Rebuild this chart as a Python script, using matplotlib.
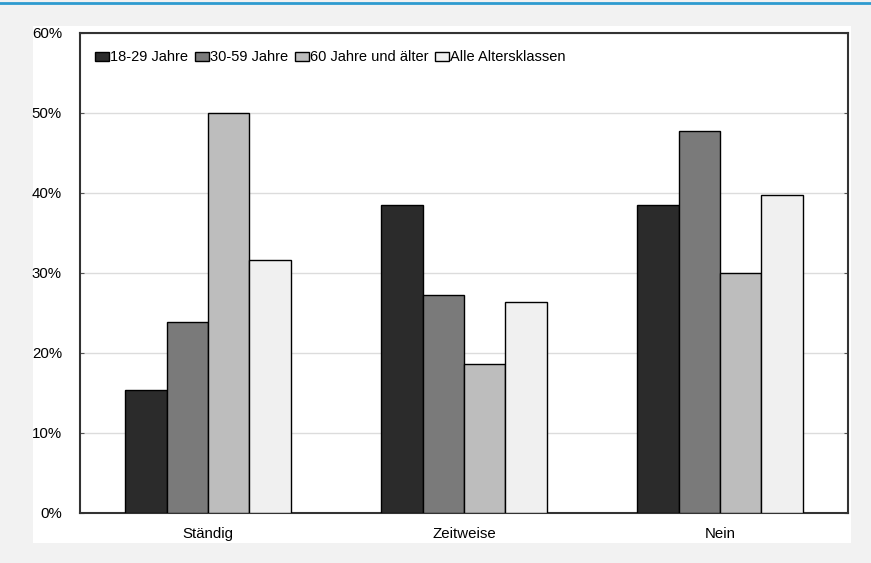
import numpy as np
import matplotlib.pyplot as plt
from matplotlib.patches import Rectangle
from matplotlib.lines import Line2D

plt.rcParams['font.family'] = ['Liberation Sans', 'DejaVu Sans']

# Antworten und Altersklassen
kategorien = ["Ständig", "Zeitweise", "Nein"]
gruppen = ["18-29 Jahre", "30-59 Jahre", "60 Jahre und älter", "Alle Altersklassen"]
jung = [15.4, 38.5, 38.5]
mitte = [23.9, 27.2, 47.8]
alt = [50.0, 18.6, 30.0]
alle = [31.6, 26.4, 39.7]
farben = ["#2b2b2b", "#7a7a7a", "#bdbdbd", "#f0f0f0"]
y_ticks = [0, 10, 20, 30, 40, 50, 60]

W, H = 871, 563
fig = plt.figure(figsize=(W / 100, H / 100), dpi=100)
fig.patch.set_facecolor("#f2f2f2")

# weisse Flaeche hinter dem Diagramm und blaue Linie oben
fig.add_artist(Rectangle((33 / W, 1 - 543 / H), (851 - 33) / W, (543 - 26) / H,
                         transform=fig.transFigure, facecolor="white",
                         edgecolor="none", zorder=0))
fig.add_artist(Line2D([0, 1], [1 - 3 / H, 1 - 3 / H], transform=fig.transFigure,
                      color="#2e9bd0", linewidth=2))

ax = fig.add_axes([80 / W, 1 - 513 / H, 768 / W, 480 / H])
ax.set_facecolor("white")

x = np.arange(len(kategorien))
breite = 0.162
werte = [jung, mitte, alt, alle]
for i, (serie, farbe, name) in enumerate(zip(werte, farben, gruppen)):
    ax.bar(x + (i - 1.5) * breite, serie, breite, color=farbe, edgecolor="black",
           linewidth=1, label=name, zorder=3)

ax.set_xlim(-0.5, 2.5)
ax.set_ylim(0, 60)
ax.set_yticks(y_ticks)
ax.set_yticklabels([f"{t}%" for t in y_ticks])
ax.set_xticks(x)
ax.set_xticklabels(kategorien)
ax.tick_params(axis="y", length=0, pad=13, labelsize=10.8)
ax.tick_params(axis="x", length=0, pad=10, labelsize=10.8)
ax.tick_params(axis="y", which="both", right=True, direction="in", length=3,
               color="#555555")
ax.yaxis.grid(True, color="#dcdcdc", linewidth=1, zorder=0)
ax.set_axisbelow(True)

for s in ax.spines.values():
    s.set_color("#333333")
    s.set_linewidth(1.5)

leg = ax.legend(loc="upper left", bbox_to_anchor=(0.006, 0.985), ncol=4,
                frameon=False, fontsize=10.5, handlelength=0.95, handleheight=0.6,
                handletextpad=0.1, columnspacing=0.45, borderaxespad=0.3)

fig.savefig("out.png", dpi=100, facecolor=fig.get_facecolor())
